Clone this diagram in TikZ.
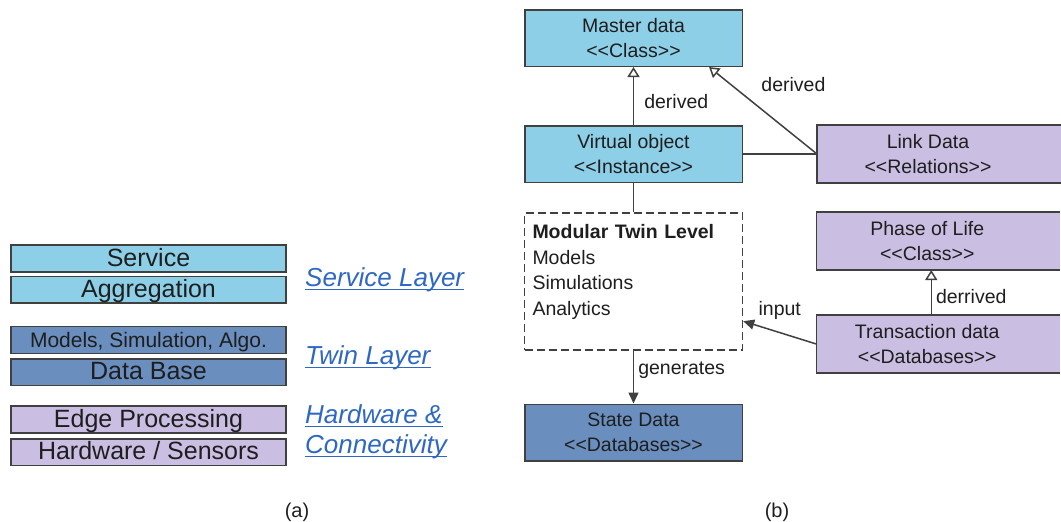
\documentclass[tikz,border=0pt]{standalone}
\usepackage{fontspec}
\setmainfont{Liberation Sans}
\usepackage{xcolor}
\usetikzlibrary{arrows.meta, positioning, calc, backgrounds}

\definecolor{skyfill}{RGB}{142,207,232}
\definecolor{steelfill}{RGB}{106,142,190}
\definecolor{lilacfill}{RGB}{202,191,226}
\definecolor{linkblue}{RGB}{46,104,196}
\definecolor{edgegray}{RGB}{64,64,64}
\definecolor{inkgray}{RGB}{30,30,30}

\newcommand{\stereo}[1]{<\kern0pt<#1>\kern0pt>}

\begin{document}
\begin{tikzpicture}[
    x=1pt, y=-1pt,
    layer/.style={rectangle, draw=edgegray, line width=1.7pt, minimum width=275.5pt, minimum height=26.8pt, inner ysep=0pt, text height=19.5pt, text depth=4pt, font=\fontsize{25}{28}\selectfont, text=inkgray},
    uml/.style={rectangle, draw=edgegray, line width=1.5pt, minimum width=217.5pt, minimum height=56.5pt, align=center, font=\fontsize{19.5}{25}\selectfont, text=inkgray},
    cutbox/.style={uml, draw=none, minimum width=220.5pt},
    twinbox/.style={rectangle, draw=edgegray, line width=1.5pt, dash pattern=on 8pt off 4pt, text width=202pt, inner xsep=8pt, inner ysep=0pt, text height=26pt, text depth=111pt, align=left, font=\fontsize{19.5}{25.5}\selectfont, text=inkgray},
    tag/.style={font=\fontsize{26}{30}\itshape\selectfont, text=linkblue, anchor=base west, inner sep=0pt},
    uline/.style={draw=linkblue, line width=1.3pt},
    lbl/.style={font=\fontsize{19.5}{25}\selectfont, text=inkgray, inner sep=2pt},
    conn/.style={draw=edgegray, line width=1.5pt},
    derive/.style={conn, -{Triangle[open, length=10pt, width=12pt]}},
    flow/.style={conn, -{Triangle[length=11pt, width=10pt]}}
]
\useasboundingbox (0,0) rectangle (1061,522);

% Layer stack (a)
\node[layer, fill=skyfill] (serv) at (148.5,258.3) {Service};
\node[layer, fill=skyfill, below=3pt of serv] (aggr) {Aggregation};
\node[layer, fill=steelfill, below=21.7pt of aggr, font=\fontsize{21}{25}\selectfont] (algo) {Models, Simulation, Algo.};
\node[layer, fill=steelfill, below=3.7pt of algo] (dbase) {Data Base};
\node[layer, fill=lilacfill, below=19pt of dbase] (edgep) {Edge Processing};
\node[layer, fill=lilacfill, below=4pt of edgep] (hwsens) {Hardware / Sensors};

% Layer names
\node[tag] (tserv) at (305,286) {Service Layer};
\node[tag] (ttwin) at (305,364) {Twin Layer};
\node[tag] (thw) at (305,423) {Hardware \&};
\node[tag] (tconn) at (305,453) {Connectivity};
\foreach \t in {tserv,ttwin,thw,tconn}
    \draw[uline] ([yshift=-3.5pt]\t.base west) -- ([yshift=-3.5pt]\t.base east);

% Data model (b)
\node[uml, fill=skyfill] (master) at (633.5,38) {Master data\\\stereo{Class}};
\node[uml, fill=skyfill, below=58pt of master] (virt) {Virtual object\\\stereo{Instance}};
\node[cutbox, right=74pt of virt] (link) {Link Data\\\stereo{Relations}};
\node[twinbox, below=29pt of virt] (twin) {\textbf{Modular Twin Level}\\Models\\Simulations\\Analytics};
\node[uml, fill=steelfill, below=53pt of twin] (state) {State Data\\\stereo{Databases}};
\node[cutbox, right=73pt of twin.north east, anchor=north west] (phase) {Phase of Life\\\stereo{Class}};
\node[cutbox, below=45pt of phase] (trans) {Transaction data\\\stereo{Databases}};

% Boxes cut off at the right edge
\begin{scope}[on background layer]
\foreach \n in {link,phase,trans} {
    \fill[lilacfill] (\n.north west) rectangle ([xshift=22pt]\n.south east);
    \draw[conn] ([xshift=22pt]\n.north east) -- (\n.north west) -- (\n.south west) -- ([xshift=22pt]\n.south east);
}
\end{scope}

% Connectors
\draw[derive] (virt) -- node[pos=0.4, right=8pt, lbl] {derived} (master);
\draw[derive] (link.west) -- node[pos=0.8, right=28pt, lbl] {derived} (master.-21.3);
\draw[conn] (virt) -- (link);
\draw[conn] (virt.south) -- (virt.south |- twin.north);
\draw[flow] (twin) -- node[pos=0.37, right=2pt, lbl] {generates} (state);
\draw[flow] (trans.west) -- node[midway, above=10pt, lbl] {input} (twin.-20.5);
\draw[derive] ([xshift=4pt]trans.north) -- node[pos=0.4, right=2pt, lbl] {derrived} ([xshift=4pt]phase.south);

% Captions
\node[lbl, font=\fontsize{20}{24}\selectfont, anchor=base] (capa) at (297,517) {(a)};
\node[lbl, font=\fontsize{20}{24}\selectfont, anchor=base] (capb) at (777,517) {(b)};

\end{tikzpicture}
\end{document}
